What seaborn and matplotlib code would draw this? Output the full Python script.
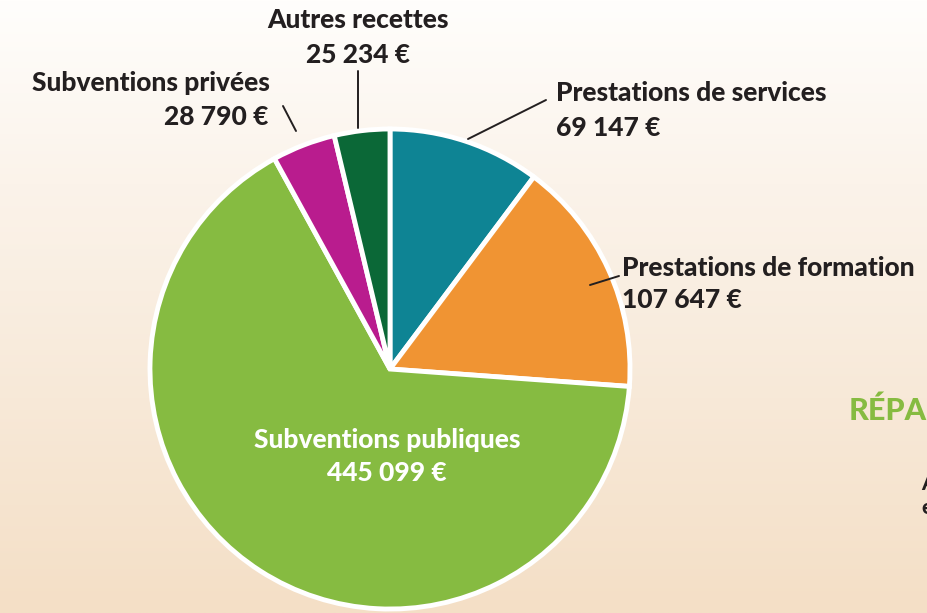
import numpy as np
import matplotlib
matplotlib.use("Agg")
import matplotlib.pyplot as plt
import seaborn as sns

categories = ["Prestations de services", "Prestations de formation",
              "Subventions publiques", "Subventions privées", "Autres recettes"]
values = [69147, 107647, 445099, 28790, 25234]
value_labels = ["69 147 €", "107 647 €", "445 099 €", "28 790 €", "25 234 €"]
colors = ["#0e8494", "#f09433", "#86bb41", "#b91c8e", "#0b6837"]

sns.set_theme(style="white")
plt.rcParams['font.family'] = ['Lato', 'DejaVu Sans']

W, H = 927, 613
fig = plt.figure(figsize=(W / 100, H / 100), dpi=100)

# background gradient
bg = fig.add_axes([0, 0, 1, 1])
bg.set_axis_off()
top = np.array([255, 254, 252]) / 255
mid = np.array([251, 243, 234]) / 255
bot = np.array([244, 223, 198]) / 255
t = np.linspace(0, 1, 256)[:, None]
grad = np.where(t < 0.3, top + (mid - top) * (t / 0.3), mid + (bot - mid) * ((t - 0.3) / 0.7))
grad = grad[:, None, :].repeat(2, axis=1)
bg.imshow(grad, aspect="auto", extent=[0, 1, 0, 1], origin="upper")

ax = fig.add_axes([0, 0, 1, 1])
ax.set_xlim(0, W)
ax.set_ylim(0, H)
ax.set_aspect("equal")
ax.set_axis_off()
ax.patch.set_alpha(0)

def Y(y):
    return H - y

cx, cy, R = 390, 369, 240
explode = [0.005, 0.012, 0.035, 0.008, 0.005]
ax.pie(values, colors=colors, startangle=90, counterclock=False,
       center=(cx, Y(cy)), radius=R, explode=explode,
       wedgeprops=dict(edgecolor="white", linewidth=3.5), frame=True)
ax.set_xlim(0, W)
ax.set_ylim(0, H)
ax.set_axis_off()

fs = 19
fw = "black"
dark = "#231f20"
txt = dict(fontsize=fs, fontweight=fw, color=dark, va="center")

# Autres recettes
ax.text(358, Y(20), categories[4], ha="center", **txt)
ax.text(358, Y(55), value_labels[4], ha="center", **txt)
ax.plot([358, 358], [Y(71), Y(128)], color=dark, lw=1.4)

# Subventions privées
ax.text(270, Y(83), categories[3], ha="right", **txt)
ax.text(268, Y(117), value_labels[3], ha="right", **txt)
ax.plot([283, 296], [Y(106), Y(131)], color=dark, lw=1.4)

# Prestations de services
ax.text(556, Y(93), categories[0], ha="left", **txt)
ax.text(556, Y(128), value_labels[0], ha="left", **txt)
ax.plot([546, 468], [Y(100), Y(139)], color=dark, lw=1.4)

# Prestations de formation
ax.text(622, Y(268), categories[1], ha="left", **txt)
ax.text(622, Y(300), value_labels[1], ha="left", **txt)
ax.plot([590, 619], [Y(285), Y(276)], color=dark, lw=1.4)

# Subventions publiques (inside)
ax.text(387, Y(440), categories[2], ha="center", fontsize=fs, fontweight=fw,
        color="white", va="center")
ax.text(387, Y(473), value_labels[2], ha="center", fontsize=fs, fontweight=fw,
        color="white", va="center")

# cropped title at the right edge (cut off in the reference too)
ax.text(849, Y(411), "RÉPARTITION", ha="left", va="center", fontsize=22,
        fontweight=fw, color="#86bb41", clip_on=False)
ax.text(921, Y(483), "A", ha="left", va="center", fontsize=15, fontweight=fw, color=dark)
ax.text(921, Y(507), "e", ha="left", va="center", fontsize=15, fontweight=fw, color=dark)

fig.savefig("out.png", dpi=100)
